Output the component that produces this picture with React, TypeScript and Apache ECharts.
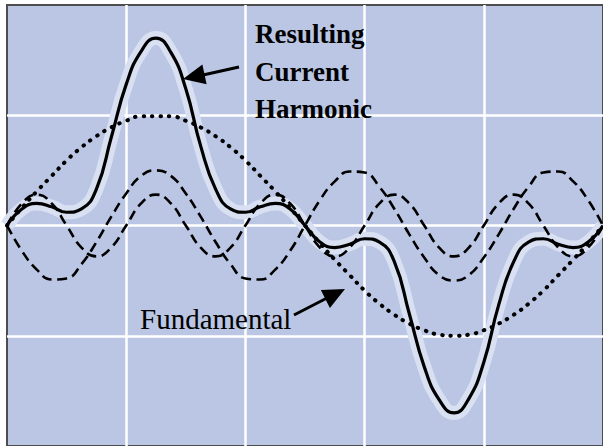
import React, { useEffect, useRef } from "react";
import * as echarts from "echarts";

// phase angle in degrees (one period of the fundamental)
const angles = [
  0, 9, 18, 27, 36, 45, 54, 63, 72, 81, 90, 99, 108, 117, 126, 135, 144, 153, 162, 171,
  180, 189, 198, 207, 216, 225, 234, 243, 252, 261, 270, 279, 288, 297, 306, 315, 324, 333, 342, 351, 360,
];

const fundamental = [
  0, 0.16, 0.31, 0.45, 0.59, 0.71, 0.81, 0.89, 0.95, 0.99, 0.99, 0.99, 0.95, 0.89, 0.81, 0.71, 0.59, 0.45, 0.31, 0.16,
  0, -0.16, -0.31, -0.45, -0.59, -0.71, -0.81, -0.89, -0.95, -0.99, -1.0, -0.99, -0.95, -0.89, -0.81, -0.71, -0.59, -0.45, -0.31, -0.16, 0,
];

const thirdHarmonic = [
  0, -0.23, -0.4, -0.49, -0.48, -0.35, -0.15, 0.08, 0.29, 0.45, 0.5, 0.45, 0.29, 0.08, -0.15, -0.35, -0.48, -0.49, -0.4, -0.23,
  0, 0.23, 0.4, 0.49, 0.48, 0.35, 0.15, -0.08, -0.29, -0.45, -0.5, -0.45, -0.29, -0.08, 0.15, 0.35, 0.48, 0.49, 0.4, 0.23, 0,
];

const fifthHarmonic = [
  0, 0.2, 0.28, 0.2, 0, -0.2, -0.28, -0.2, 0, 0.2, 0.28, 0.2, 0, -0.2, -0.28, -0.2, 0, 0.2, 0.28, 0.2,
  0, -0.2, -0.28, -0.2, 0, 0.2, 0.28, 0.2, 0, -0.2, -0.28, -0.2, 0, 0.2, 0.28, 0.2, 0, -0.2, -0.28, -0.2, 0,
];

const resultingCurrent = [
  0, 0.15, 0.2, 0.17, 0.12, 0.15, 0.33, 0.8, 1.28, 1.58, 1.7, 1.57, 1.24, 0.72, 0.33, 0.15, 0.12, 0.17, 0.2, 0.15,
  0, -0.15, -0.2, -0.17, -0.12, -0.15, -0.33, -0.8, -1.28, -1.58, -1.7, -1.57, -1.24, -0.72, -0.33, -0.15, -0.12, -0.17, -0.2, -0.15, 0,
];

const resultLabel = ["Resulting", "Current", "Harmonic"];
const fundamentalLabel = "Fundamental";

const pairs = (vals: number[]) => angles.map((a, i) => [a, vals[i]]);

export default function App() {
  const ref = useRef<HTMLDivElement>(null);

  useEffect(() => {
    if (!ref.current) return;
    const chart = echarts.init(ref.current, undefined, { renderer: "svg" });
    const serif = "serif";

    chart.setOption({
      animation: false,
      backgroundColor: "#ffffff",
      grid: {
        left: 7,
        top: 5,
        width: 600,
        height: 443,
        show: true,
        backgroundColor: "#bac6e3",
        borderColor: "#4d4d4d",
        borderWidth: 2,
      },
      xAxis: {
        type: "value",
        min: 0,
        max: 360,
        interval: 72,
        axisLine: { show: false },
        axisTick: { show: false },
        axisLabel: { show: false },
        splitLine: {
          show: true,
          showMinLine: false,
          showMaxLine: false,
          lineStyle: { color: "#ffffff", width: 2.5 },
        },
      },
      yAxis: {
        type: "value",
        min: -2,
        max: 2,
        interval: 1,
        axisLine: { show: false },
        axisTick: { show: false },
        axisLabel: { show: false },
        splitLine: {
          show: true,
          showMinLine: false,
          showMaxLine: false,
          lineStyle: { color: "#ffffff", width: 2.5 },
        },
      },
      series: [
        {
          name: "glow",
          type: "line",
          data: pairs(resultingCurrent),
          smooth: true,
          showSymbol: false,
          silent: true,
          z: 1,
          lineStyle: { color: "#d8e0f2", width: 14 },
        },
        {
          name: "Fundamental",
          type: "line",
          data: pairs(fundamental),
          smooth: true,
          showSymbol: false,
          z: 2,
          lineStyle: { color: "#000000", width: 4, type: [0.5, 8], cap: "round" },
        },
        {
          name: "3rd harmonic",
          type: "line",
          data: pairs(thirdHarmonic),
          smooth: true,
          showSymbol: false,
          z: 2,
          lineStyle: { color: "#000000", width: 2.6, type: [10, 5.5] },
        },
        {
          name: "5th harmonic",
          type: "line",
          data: pairs(fifthHarmonic),
          smooth: true,
          showSymbol: false,
          z: 2,
          lineStyle: { color: "#000000", width: 2.6, type: [10, 5.5] },
        },
        {
          name: "Resulting Current Harmonic",
          type: "line",
          data: pairs(resultingCurrent),
          smooth: true,
          showSymbol: false,
          z: 3,
          lineStyle: { color: "#000000", width: 3.2 },
        },
      ],
      graphic: [
        ...resultLabel.map((t, i) => ({
          type: "text",
          x: 255,
          y: 34 + i * 37.5,
          z: 10,
          style: {
            text: t,
            fontFamily: serif,
            fontSize: 27,
            fontWeight: "bold",
            fill: "#000000",
            verticalAlign: "middle",
            align: "left",
          },
        })),
        {
          type: "text",
          x: 140,
          y: 319,
          z: 10,
          style: {
            text: fundamentalLabel,
            fontFamily: serif,
            fontSize: 29,
            fontWeight: "normal",
            fill: "#000000",
            verticalAlign: "middle",
            align: "left",
          },
        },
        {
          type: "line",
          z: 10,
          shape: { x1: 239, y1: 67, x2: 203, y2: 75 },
          style: { stroke: "#000000", lineWidth: 3 },
        },
        {
          type: "polygon",
          z: 10,
          shape: { points: [[183, 79], [206.6, 84.2], [202.4, 64.6]] },
          style: { fill: "#000000" },
        },
        {
          type: "line",
          z: 10,
          shape: { x1: 294, y1: 315, x2: 327, y2: 298 },
          style: { stroke: "#000000", lineWidth: 3 },
        },
        {
          type: "polygon",
          z: 10,
          shape: { points: [[345, 289], [329.9, 307.9], [320.9, 290.1]] },
          style: { fill: "#000000" },
        },
      ],
    });

    return () => chart.dispose();
  }, []);

  return (
    <div
      ref={ref}
      style={{ position: "fixed", left: 0, top: 0, width: 603, height: 446 }}
    />
  );
}
